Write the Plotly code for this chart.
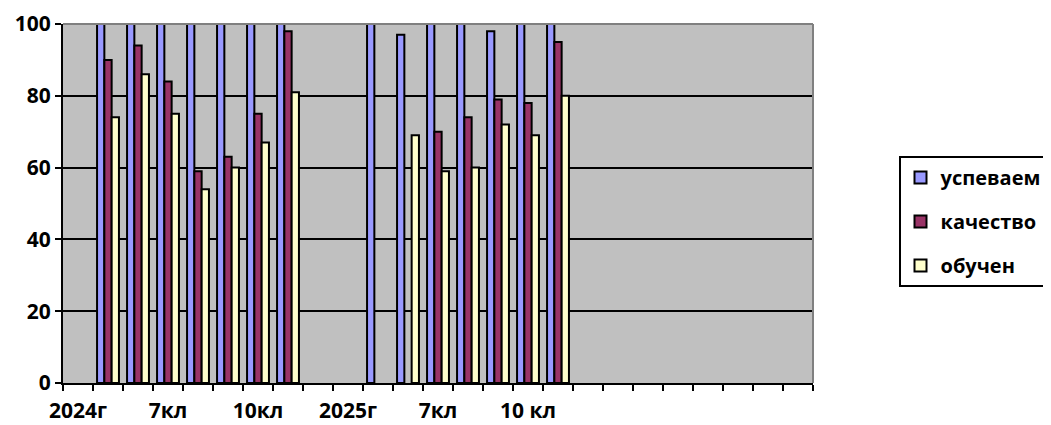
import plotly.graph_objects as go

categories = ["2024г", "5кл", "6кл", "7кл", "8кл", "9кл", "10кл", "11кл", "",
              "2025г", "5кл", "6кл", "7кл", "8кл", "9кл", "10 кл", "11кл",
              "", "", "", "", "", "", "", ""]
uspevaem = [None, 100, 100, 100, 100, 100, 100, 100, None,
            None, 100, 97, 100, 100, 98, 100, 100,
            None, None, None, None, None, None, None, None]
kachestvo = [None, 90, 94, 84, 59, 63, 75, 98, None,
             None, None, None, 70, 74, 79, 78, 95,
             None, None, None, None, None, None, None, None]
obuchen = [None, 74, 86, 75, 54, 60, 67, 81, None,
           None, None, 69, 59, 60, 72, 69, 80,
           None, None, None, None, None, None, None, None]
series_names = ["успеваем", "качество", "обучен"]
y_ticks = [0, 20, 40, 60, 80, 100]

colors = ["#9999FF", "#993366", "#FFFFCC"]
xpos = list(range(len(categories)))
label_idx = list(range(0, len(categories), 3))

FONT = "'Open Sans', 'Noto Sans', 'Liberation Sans', sans-serif"


def b(t):
    return f"<b>{t}</b>" if t else ""


fig = go.Figure()
for i, (name, vals) in enumerate(zip(series_names, [uspevaem, kachestvo, obuchen])):
    fig.add_trace(go.Bar(
        x=xpos, y=vals, name=b(name), legendgroup=name,
        marker=dict(color=colors[i], line=dict(color="black", width=2)),
    ))

# page body has an 8px default margin: compensate so the plot lands where the reference has it
fig.update_layout(
    width=1043, height=417,
    margin=dict(l=55, r=238, t=16, b=42, autoexpand=False),
    paper_bgcolor="white",
    plot_bgcolor="#C0C0C0",
    barmode="group",
    bargap=0.27,
    bargroupgap=0,
    font=dict(family=FONT, size=19, color="black", weight="bold"),
    showlegend=True,
    legend=dict(
        x=1.114, y=0.632, xanchor="left", yanchor="top",
        bgcolor="white", bordercolor="black", borderwidth=2,
        font=dict(family=FONT, size=20, color="black", weight="bold"),
        tracegroupgap=15, itemwidth=30,
        entrywidth=180, entrywidthmode="pixels",
    ),
    xaxis=dict(
        range=[-0.5, len(categories) - 0.5],
        tickmode="array", tickvals=label_idx,
        ticktext=[b(categories[i]) for i in label_idx],
        ticks="", showgrid=False, zeroline=False,
        showline=True, linecolor="black", linewidth=2,
        tickfont=dict(family=FONT, size=21, color="black", weight="bold"),
        minor=dict(tickmode="linear", tick0=-0.5, dtick=1, ticks="outside",
                   ticklen=6, tickwidth=2, tickcolor="black", showgrid=False),
        ticklabelstandoff=8,
    ),
    yaxis=dict(
        range=[0, 100], tickmode="array", tickvals=y_ticks,
        ticktext=[b(str(v)) for v in y_ticks],
        ticks="outside", ticklen=6, tickwidth=2, tickcolor="black",
        showgrid=True, gridcolor="black", gridwidth=2,
        zeroline=False, showline=True, linecolor="black", linewidth=2,
        tickfont=dict(family=FONT, size=21, color="black", weight="bold"),
    ),
    shapes=[
        dict(type="line", xref="paper", yref="paper", x0=0, x1=1, y0=1, y1=1,
             line=dict(color="#808080", width=2)),
        dict(type="line", xref="paper", yref="paper", x0=1, x1=1, y0=0, y1=1,
             line=dict(color="#808080", width=2)),
    ],
)

fig.write_html("out.html")
